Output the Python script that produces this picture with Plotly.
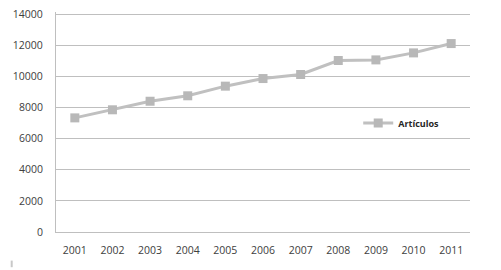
import plotly.graph_objects as go

years = ["2001", "2002", "2003", "2004", "2005", "2006", "2007", "2008", "2009", "2010", "2011"]
articulos = [7340, 7860, 8410, 8760, 9380, 9870, 10130, 11030, 11070, 11520, 12120]
y_ticks = [0, 2000, 4000, 6000, 8000, 10000, 12000, 14000]

fig = go.Figure()
fig.add_trace(go.Scatter(
    x=years, y=articulos, mode="lines+markers", name="Artículos",
    line=dict(color="#c0c0c0", width=3),
    marker=dict(symbol="square", size=9, color="#b8b8b8"),
))

# small stray mark at the bottom-left corner of the original image
fig.add_shape(type="line", xref="paper", yref="paper",
              x0=-0.107, x1=-0.107, y0=-0.13, y1=-0.16,
              line=dict(color="#c8c8c8", width=2))

# page body has an 8px default margin, so the figure is sized to compensate
fig.update_layout(
    width=493, height=262,
    margin=dict(l=48, r=31, t=4, b=38),
    paper_bgcolor="white", plot_bgcolor="white",
    font=dict(family="Open Sans, Liberation Sans, sans-serif", size=10.5, color="#404040"),
    showlegend=True,
    legend=dict(x=0.73, y=0.495, xanchor="left", yanchor="middle",
                font=dict(size=9, color="#262626", family="Open Sans, sans-serif", weight="bold"),
                bgcolor="rgba(0,0,0,0)"),
    xaxis=dict(type="category", range=[-0.5, 10.5], showgrid=False, automargin=False,
               showline=True, linecolor="#bfbfbf", linewidth=1,
               ticks="", ticklabelstandoff=8),
    yaxis=dict(range=[0, 14150], tickvals=y_ticks, ticktext=[str(v) for v in y_ticks],
               showgrid=True, automargin=False, ticklabeloverflow="allow",
               gridcolor="#bfbfbf", gridwidth=1, zeroline=False,
               showline=True, linecolor="#bfbfbf", linewidth=1,
               ticks="", ticklabelstandoff=10),
)

fig.write_html("out.html")
